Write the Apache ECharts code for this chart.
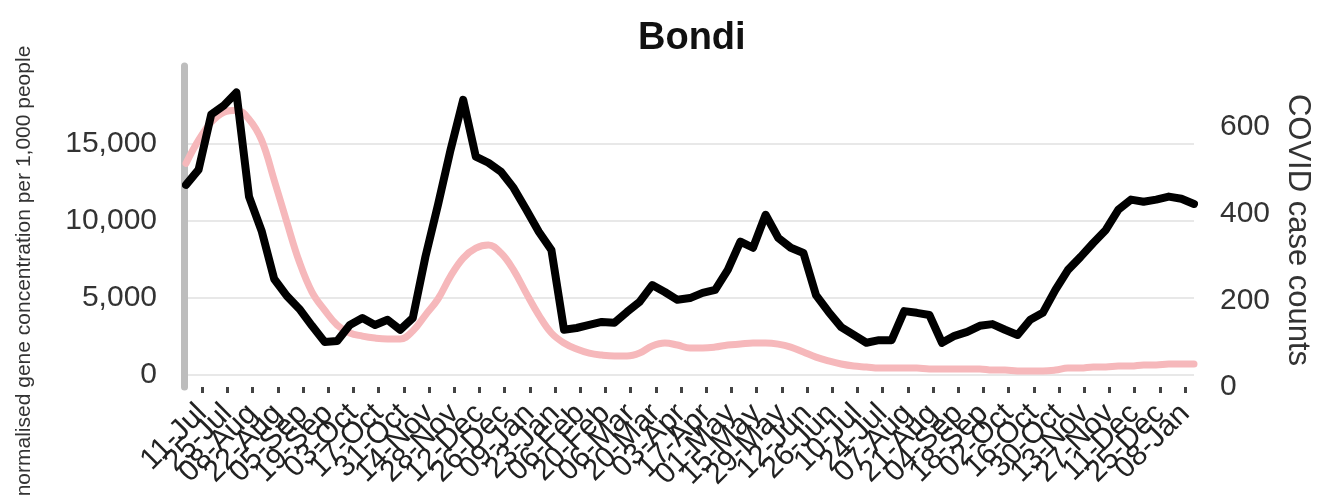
<!DOCTYPE html>
<html><head><meta charset="utf-8">
<script src="https://cdn.jsdelivr.net/npm/echarts@6/dist/echarts.min.js"></script>
<style>html,body{margin:0;padding:0;background:#fff}#c{width:1324px;height:498px}</style>
</head><body><div id="c"></div>
<script>
// Weekly samples starting Friday 02-Jul-2021 (81 weeks); axis runs 02-Jul-2021 to 13-Jan-2023
const firstSample = '2021-07-02';
const sampleCount = 81;
const axisMin = '2021-07-02';
const axisMax = '2023-01-13';

// fortnightly tick labels (11-Jul-2021 ... 08-Jan-2023)
const tickDates = ['2021-07-11','2021-07-25','2021-08-08','2021-08-22','2021-09-05','2021-09-19','2021-10-03','2021-10-17','2021-10-31','2021-11-14','2021-11-28','2021-12-12','2021-12-26',
'2022-01-09','2022-01-23','2022-02-06','2022-02-20','2022-03-06','2022-03-20','2022-04-03','2022-04-17','2022-05-01','2022-05-15','2022-05-29','2022-06-12','2022-06-26','2022-07-10','2022-07-24','2022-08-07','2022-08-21','2022-09-04','2022-09-18','2022-10-02','2022-10-16','2022-10-30','2022-11-13','2022-11-27','2022-12-11','2022-12-25','2023-01-08'];
const tickLabels = ['11-Jul','25-Jul','08-Aug','22-Aug','05-Sep','19-Sep','03-Oct','17-Oct','31-Oct','14-Nov','28-Nov','12-Dec','26-Dec',
'09-Jan','23-Jan','06-Feb','20-Feb','06-Mar','20-Mar','03-Apr','17-Apr','01-May','15-May','29-May','12-Jun','26-Jun','10-Jul','24-Jul','07-Aug','21-Aug','04-Sep','18-Sep','02-Oct','16-Oct','30-Oct','13-Nov','27-Nov','11-Dec','25-Dec','08-Jan'];

// Pink smoothed line: normalised gene concentration per 1,000 people (left axis)
const geneConc = [13700,15200,16360,17010,17140,16560,15200,12610,9900,7310,5370,4200,3230,2720,2520,2390,2330,2330,2850,3880,4920,6400,7570,8210,8410,7890,6790,5300,3880,2720,2070,1680,1420,1290,1230,1230,1420,1880,2070,1940,1750,1750,1810,1940,2000,2070,2070,2000,1810,1490,1160,910,710,580,520,450,450,450,450,390,390,390,390,390,320,320,260,260,260,320,450,450,520,520,580,580,650,650,710,710,710];
// Black line: COVID case counts (right axis)
const caseCounts = [466,501,628,649,679,439,360,249,210,180,141,104,106,143,159,143,155,132,159,300,420,547,662,531,517,496,459,409,358,316,132,136,143,150,148,173,196,235,219,201,205,217,224,270,335,321,397,344,321,309,212,173,138,120,102,108,108,175,171,166,102,118,127,141,145,132,120,155,171,224,270,300,332,362,409,432,427,432,439,434,422];

function dayNum(s){ const p = s.split('-').map(Number); return Math.round(Date.UTC(p[0], p[1]-1, p[2]) / 86400000); }
const day0 = dayNum(axisMin);
const sampleDays = [];
for (let k = 0; k < sampleCount; k++) sampleDays.push(dayNum(firstSample) - day0 + 7*k);
const xMin = 0, xMax = dayNum(axisMax) - day0;

// plot geometry: the date axis spans 186px .. 1194px
const plotLeft = 186, plotRight = 1324 - 1194;
const pxPerDay = (1324 - plotLeft - plotRight) / (xMax - xMin);
const firstTickDay = dayNum(tickDates[0]) - day0, lastTickDay = dayNum(tickDates[tickDates.length-1]) - day0;
const labLeft = plotLeft + firstTickDay * pxPerDay;
const labRight = plotRight + (xMax - lastTickDay) * pxPerDay;

const FONT = '"Liberation Sans", Arial, sans-serif';
const chart = echarts.init(document.getElementById('c'), null, {renderer:'canvas'});
chart.setOption({
  animation:false,
  backgroundColor:'#fff',
  textStyle:{fontFamily:FONT},
  title:{text:'Bondi', left:633, top:15, textStyle:{fontSize:38, fontWeight:'bold', color:'#111', fontFamily:FONT}},
  grid:[
    {left:plotLeft, right:plotRight, top:66, bottom:123},
    {left:plotLeft, right:plotRight, top:66, bottom:111},
    {left:labLeft, right:labRight, top:66, bottom:111}
  ],
  xAxis:[
    {type:'value', gridIndex:0, min:xMin, max:xMax, show:false, splitLine:{show:false}},
    {type:'value', gridIndex:1, min:xMin, max:xMax, show:false, splitLine:{show:false}},
    {type:'category', gridIndex:2, data:tickLabels, boundaryGap:false, offset:3,
      axisLine:{show:false},
      axisTick:{show:true, interval:0, length:6, lineStyle:{color:'#444', width:3}},
      axisLabel:{interval:0, rotate:45, fontSize:30, color:'#222', margin:19},
      splitLine:{show:false}
    }
  ],
  yAxis:[
    {type:'value', gridIndex:0, position:'left', min:0, max:20000, interval:5000,
      axisLine:{show:false}, axisTick:{show:false},
      axisLabel:{showMaxLabel:false, fontSize:30, color:'#333', margin:29, formatter:function(v){return v.toLocaleString('en-US');}},
      splitLine:{show:true, showMaxLine:false, lineStyle:{color:'#e8e8e8', width:2}}
    },
    {type:'value', gridIndex:1, position:'right', min:0, max:740, interval:200,
      axisLine:{show:false}, axisTick:{show:false},
      axisLabel:{showMaxLabel:false, fontSize:30, color:'#333', margin:26},
      splitLine:{show:false}
    },
    {type:'value', gridIndex:1, position:'left', min:0, max:1, offset:2,
      axisLine:{show:true, lineStyle:{color:'#bdbdbd', width:7}}, axisTick:{show:false},
      axisLabel:{show:false}, splitLine:{show:false}
    },
    {type:'value', gridIndex:2, show:false, min:0, max:1}
  ],
  graphic:[
    {type:'text', x:24, y:271, rotation:Math.PI/2,
      style:{text:'normalised gene concentration per 1,000 people', x:0, y:0, align:'center', verticalAlign:'middle', textAlign:'center', textVerticalAlign:'middle', fontSize:21, fontFamily:FONT, fill:'#333'}},
    {type:'text', x:1298, y:230, rotation:-Math.PI/2,
      style:{text:'COVID case counts', x:0, y:0, align:'center', verticalAlign:'middle', textAlign:'center', textVerticalAlign:'middle', fontSize:31, fontFamily:FONT, fill:'#333'}}
  ],
  series:[
    {name:'gene', type:'line', xAxisIndex:0, yAxisIndex:0, smooth:0.4, symbol:'none',
      data:sampleDays.map((t,i)=>[t, geneConc[i]]),
      lineStyle:{color:'#f6b8bb', width:7, cap:'round', join:'round'}, z:2},
    {name:'cases', type:'line', xAxisIndex:1, yAxisIndex:1, smooth:false, symbol:'none',
      data:sampleDays.map((t,i)=>[t, caseCounts[i]]),
      lineStyle:{color:'#000', width:8, cap:'round', join:'round'}, z:3}
  ]
});
</script></body></html>
